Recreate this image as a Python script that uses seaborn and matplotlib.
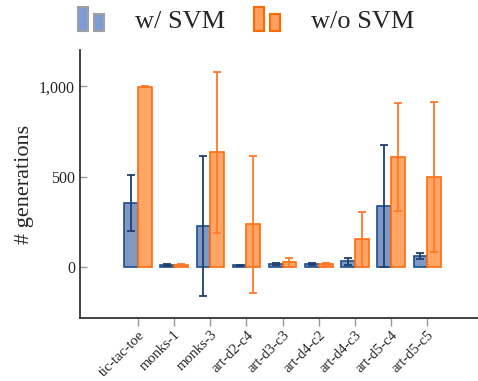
import seaborn as sns
import matplotlib.pyplot as plt
import pandas as pd
import numpy as np
from matplotlib.patches import Rectangle, Patch
from matplotlib.legend_handler import HandlerBase
from matplotlib.ticker import StrMethodFormatter

sns.set_theme(style="white")
plt.rcParams['font.family'] = ['Liberation Serif', 'DejaVu Serif']

# values
datasets = ['tic-tac-toe', 'monks-1', 'monks-3', 'art-d2-c4', 'art-d3-c3',
            'art-d4-c2', 'art-d4-c3', 'art-d5-c4', 'art-d5-c5']
svm_mean = [357, 11, 230, 10, 20, 17, 37, 341, 61]
svm_lo = [199, 6, -157, 6, 15, 13, 15, 0, 44]
svm_hi = [512, 16, 613, 14, 26, 21, 54, 674, 79]
nosvm_mean = [996, 11, 637, 239, 31, 17, 155, 609, 499]
nosvm_lo = [994, 6, 190, -144, 4, 12, 0, 309, 83]
nosvm_hi = [999, 16, 1079, 617, 51, 22, 308, 908, 912]
methods = ['w/ SVM', 'w/o SVM']

df = pd.DataFrame({
    'dataset': datasets * 2,
    'gens': svm_mean + nosvm_mean,
    'method': [methods[0]] * len(datasets) + [methods[1]] * len(datasets),
})

fills = ['#7f98c4', '#ffa566']
edges = ['#1d4f8c', '#ff6c0a']
ecolors = ['#1f3f6e', '#ff7a2a']

fig = plt.figure(figsize=(4.78, 3.81), dpi=100)
ax = fig.add_axes([80 / 478, 1 - 318 / 381, 398 / 478, 268 / 381])

sns.barplot(data=df, x='dataset', y='gens', hue='method', palette=fills,
            errorbar=None, width=0.76, gap=0, ax=ax, legend=False,
            saturation=1)

los = [svm_lo, nosvm_lo]
his = [svm_hi, nosvm_hi]
means = [svm_mean, nosvm_mean]
bar_conts = list(ax.containers)
for i, cont in enumerate(bar_conts):
    xs = []
    for p in cont.patches:
        p.set_edgecolor(edges[i])
        p.set_linewidth(1.2)
        xs.append(p.get_x() + p.get_width() / 2)
    m = np.array(means[i])
    err = [m - np.array(los[i]), np.array(his[i]) - m]
    line, caps, bars = ax.errorbar(xs, m, yerr=err, fmt='none',
                                   ecolor=ecolors[i], elinewidth=1.3,
                                   capsize=3, capthick=1.3, zorder=5)
    for c in caps:
        c.set_color('#333333')

ax.set_xlim(-1.6, 9.4)
ax.set_ylim(-280, 1200)
ax.set_yticks([0, 500, 1000])
ax.yaxis.set_major_formatter(StrMethodFormatter('{x:,.0f}'))
ax.set_xlabel('')
ax.set_ylabel('# generations', fontsize=16)
ax.tick_params(axis='y', direction='in', length=5, width=1,
               color='#999999', labelsize=11.5, left=True)
ax.tick_params(axis='x', direction='out', length=6, width=1, pad=1.5,
               color='#999999', labelsize=10.5, bottom=True)
plt.setp(ax.get_xticklabels(), rotation=45, ha='right',
         rotation_mode='anchor')
sns.despine(ax=ax)
for s in ['left', 'bottom']:
    ax.spines[s].set_color('#333333')
    ax.spines[s].set_linewidth(1.3)


class TwoBars(HandlerBase):
    def __init__(self, face, edge):
        super().__init__()
        self.face = face
        self.edge = edge

    def create_artists(self, legend, orig_handle, xdescent, ydescent,
                       width, height, fontsize, trans):
        w = width * 0.38
        r1 = Rectangle((-xdescent, -ydescent), w, height,
                       facecolor=self.face, edgecolor=self.edge, lw=1.5,
                       transform=trans)
        r2 = Rectangle((-xdescent + width - w, -ydescent), w, height * 0.7,
                       facecolor=self.face, edgecolor=self.edge, lw=1.5,
                       transform=trans)
        return [r1, r2]


h1, h2 = Patch(), Patch()
fig.legend([h1, h2], methods, loc='center left',
           bbox_to_anchor=(78 / 478, 1 - 20 / 381), ncol=2, frameon=False,
           fontsize=19, borderpad=0, borderaxespad=0, handlelength=1.0,
           handleheight=1.05, handletextpad=1.15, columnspacing=1.1,
           handler_map={h1: TwoBars('#7b9bd6', '#a0a0a0'),
                        h2: TwoBars('#ffa060', '#ff6a00')})

fig.savefig('out.png', dpi=100)
